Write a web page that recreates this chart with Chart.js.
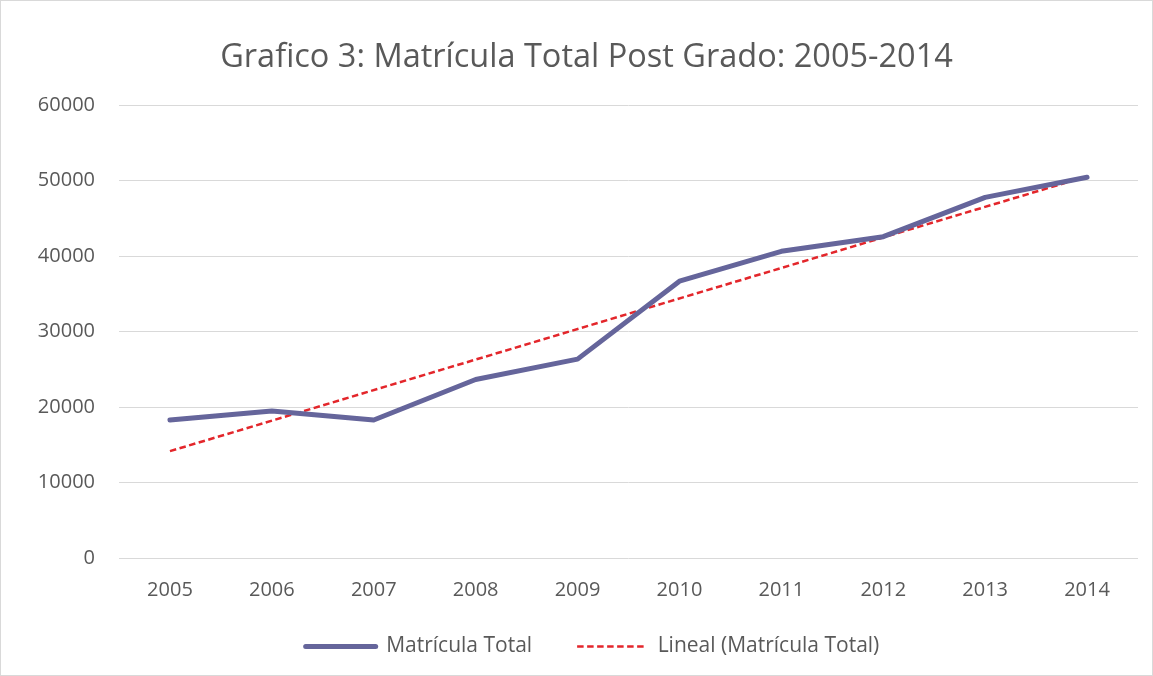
<!DOCTYPE html>
<html>
<head>
<meta charset="utf-8">
<script src="https://cdn.jsdelivr.net/npm/chart.js@4.4.1/dist/chart.umd.min.js"></script>
<style>
    html, body { margin: 0; padding: 0; background: #fff; }
    #wrap { position: relative; width: 1153px; height: 676px; box-sizing: border-box; border: 1px solid #d9d9d9; }
</style>
</head>
<body>
<div id="wrap"><canvas id="matriculaChart"></canvas></div>
<script>
const years = ['2005', '2006', '2007', '2008', '2009', '2010', '2011', '2012', '2013', '2014'];
const matriculaTotal = [18280, 19470, 18280, 23640, 26340, 36670, 40620, 42560, 47770, 50440];
// linea de tendencia: solo los extremos
const tendenciaLineal = [14150, null, null, null, null, null, null, null, null, 50550];
const yTicks = [0, 10000, 20000, 30000, 40000, 50000, 60000];

const textColor = '#595959';
const fontFamily = "'Open Sans', 'Liberation Sans', sans-serif";

// la leyenda ocupa menos alto y se corre un poco a la derecha, como en el original
const legendTrim = 23;
const legendShiftX = 6;
const legendShift = {
    id: 'legendShift',
    afterInit(chart) {
        const legend = chart.legend;
        const fitLegend = legend.fit.bind(legend);
        legend.fit = function () {
            fitLegend();
            this.height = this.height - legendTrim;
        };
        const drawLegend = legend.draw.bind(legend);
        legend.draw = function () {
            const box = { top: this.top, left: this.left, right: this.right };
            this.top -= legendTrim;
            this.left += legendShiftX;
            this.right += legendShiftX;
            drawLegend();
            this.top = box.top;
            this.left = box.left;
            this.right = box.right;
        };
    }
};

const ctx = document.getElementById('matriculaChart').getContext('2d');

new Chart(ctx, {
    type: 'line',
    data: {
        labels: years,
        datasets: [
            {
                label: 'Matrícula Total',
                data: matriculaTotal,
                borderColor: '#65659b',
                backgroundColor: '#65659b',
                borderWidth: 5,
                borderCapStyle: 'round',
                borderJoinStyle: 'round',
                pointRadius: 0,
                pointStyle: 'line',
                tension: 0
            },
            {
                label: 'Lineal (Matrícula Total)',
                data: tendenciaLineal,
                borderColor: '#e3262b',
                backgroundColor: '#e3262b',
                borderWidth: 2.5,
                borderDash: [6.5, 3.5],
                pointRadius: 0,
                pointStyle: 'line',
                spanGaps: true,
                tension: 0
            }
        ]
    },
    options: {
        responsive: true,
        maintainAspectRatio: false,
        animation: false,
        layout: { padding: { left: 34, right: 14, top: 0, bottom: 8 } },
        scales: {
            x: {
                offset: true,
                grid: { display: false },
                border: { display: false },
                ticks: { color: textColor, font: { family: fontFamily, size: 20 }, padding: 12, autoSkip: false, maxRotation: 0 }
            },
            y: {
                min: 0,
                max: 60000,
                afterBuildTicks: scale => { scale.ticks = yTicks.map(v => ({ value: v })); },
                afterFit: scale => { scale.width = 84; },
                grid: { color: '#d9d9d9', lineWidth: 1, drawTicks: false },
                border: { display: false },
                ticks: {
                    color: textColor,
                    font: { family: fontFamily, size: 20 },
                    padding: 24,
                    callback: v => String(v)
                }
            }
        },
        plugins: {
            title: {
                display: true,
                text: 'Grafico 3: Matrícula Total Post Grado: 2005-2014',
                color: textColor,
                font: { family: fontFamily, size: 32.5, weight: 'normal' },
                padding: { top: 37, bottom: 28 }
            },
            legend: {
                position: 'bottom',
                labels: {
                    usePointStyle: true,
                    pointStyleWidth: 70,
                    color: textColor,
                    font: { family: fontFamily, size: 21 },
                    padding: 45,
                    generateLabels: chart => {
                        const items = Chart.defaults.plugins.legend.labels.generateLabels(chart);
                        items.forEach(item => {
                            const ds = chart.data.datasets[item.datasetIndex];
                            item.lineDash = ds.borderDash || [];
                            item.lineWidth = ds.borderWidth;
                            item.lineCap = ds.borderCapStyle || 'butt';
                            item.strokeStyle = ds.borderColor;
                        });
                        return items;
                    }
                }
            },
            tooltip: { enabled: false }
        }
    },
    plugins: [legendShift]
});
</script>
</body>
</html>
